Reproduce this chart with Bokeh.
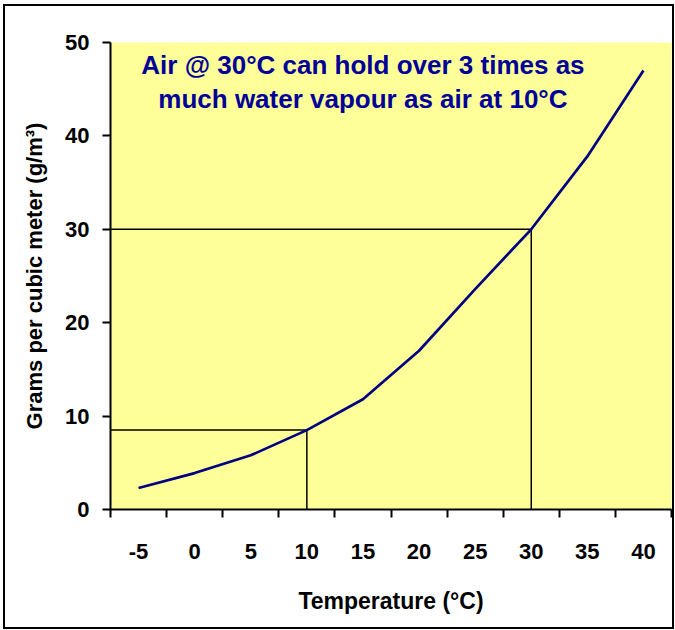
from bokeh.plotting import figure
from bokeh.models import FixedTicker, Label, Range1d, InlineStyleSheet
from bokeh.embed import file_html
from bokeh.resources import INLINE

# Data
temps = [-5, 0, 5, 10, 15, 20, 25, 30, 35, 40]
grams = [2.3, 3.9, 5.8, 8.5, 11.8, 17.0, 23.6, 30.0, 37.8, 47.0]
y_ticks = [0, 10, 20, 30, 40, 50]
ref_temps = [10, 30]
ref_values = [8.5, 30.0]

FONT = "Liberation Sans"
half = 2.5
x_lo = temps[0] - half
x_hi = temps[-1] + half
boundaries = [t - half for t in temps] + [x_hi]

p = figure(width=675, height=630, output_backend="svg", toolbar_location=None,
           x_range=Range1d(x_lo, x_hi), y_range=Range1d(y_ticks[0], y_ticks[-1]),
           min_border_left=110, min_border_right=4, min_border_top=42, min_border_bottom=121)
p.stylesheets = [InlineStyleSheet(css=(
    ":host{position:relative;}"
    ":host::after{content:'';position:absolute;left:3px;top:4px;right:1px;bottom:1px;"
    "border:2px solid black;pointer-events:none;z-index:1000;}"))]

p.background_fill_color = "#FFFF99"
p.border_fill_color = "white"
p.outline_line_color = None
p.grid.visible = False

# reference lines
for t, v in zip(ref_temps, ref_values):
    p.line([x_lo, t, t], [v, v, 0], line_color="black", line_width=1.5)

p.line(temps, grams, line_color="#000080", line_width=2.7)

# x axis: labels at category centres, ticks at boundaries
xa = p.xaxis[0]
xa.ticker = FixedTicker(ticks=temps, minor_ticks=boundaries)
xa.major_label_overrides = {t: str(t) for t in temps}
xa.major_tick_line_color = None
xa.major_tick_out = 8
xa.major_tick_in = 0
xa.minor_tick_line_color = "black"
xa.minor_tick_line_width = 2
xa.minor_tick_out = 8
xa.minor_tick_in = 0
xa.axis_line_color = "black"
xa.axis_line_width = 2
xa.major_label_standoff = 26
xa.major_label_text_font = FONT
xa.major_label_text_font_style = "bold"
xa.major_label_text_font_size = "22px"
xa.major_label_text_color = "black"
xa.axis_label = "Temperature (°C)"
xa.axis_label_text_font = FONT
xa.axis_label_text_font_style = "bold"
xa.axis_label_text_font_size = "23px"
xa.axis_label_text_color = "black"
xa.axis_label_standoff = 26

ya = p.yaxis[0]
ya.ticker = FixedTicker(ticks=y_ticks, minor_ticks=[])
ya.major_tick_line_color = "black"
ya.major_tick_line_width = 2
ya.major_tick_out = 8
ya.major_tick_in = 0
ya.minor_tick_line_color = None
ya.axis_line_color = "black"
ya.axis_line_width = 2
ya.major_label_standoff = 13
ya.major_label_text_font = FONT
ya.major_label_text_font_style = "bold"
ya.major_label_text_font_size = "22px"
ya.major_label_text_color = "black"
ya.axis_label = "Grams per cubic meter (g/m³)"
ya.axis_label_text_font = FONT
ya.axis_label_text_font_style = "bold"
ya.axis_label_text_font_size = "22px"
ya.axis_label_text_color = "black"
ya.axis_label_standoff = 15

p.add_layout(Label(x=15, y=49.2, text="Air @ 30°C can hold over 3 times as\nmuch water vapour as air at 10°C",
                   text_font=FONT, text_font_style="bold", text_font_size="26px",
                   text_align="center", text_baseline="top", text_color="#000099",
                   text_line_height=1.15))

open("out.html", "w").write(file_html(p, INLINE))
